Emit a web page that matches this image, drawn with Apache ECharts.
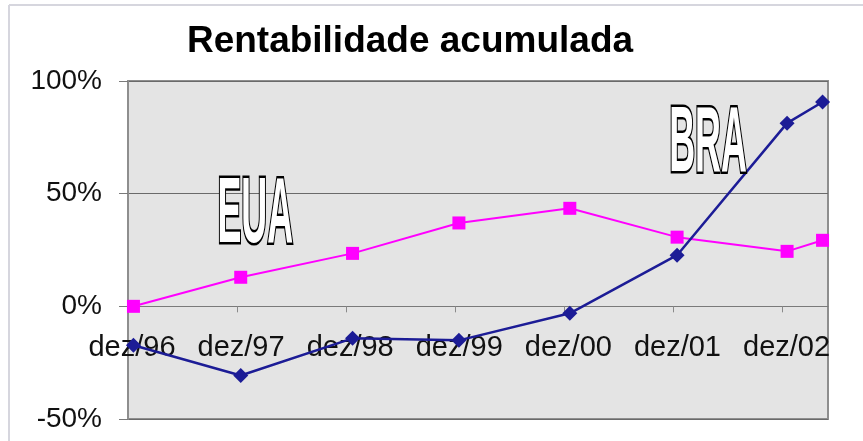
<!DOCTYPE html>
<html>
<head>
<meta charset="utf-8">
<script src="https://cdn.jsdelivr.net/npm/echarts@6/dist/echarts.min.js"></script>
<style>html,body{margin:0;padding:0;background:#fff;}#c{width:863px;height:441px;}</style>
</head>
<body>
<div id="c"></div>
<script>
// months since dez/96 at which each point was recorded
var months = [0.6, 12.4, 24.7, 36.4, 48.6, 60.4, 72.5, 76.4];
var tickLabels = ['dez/96', 'dez/97', 'dez/98', 'dez/99', 'dez/00', 'dez/01', 'dez/02'];
var eua = [0, 12.9, 23.5, 37.0, 43.5, 30.7, 24.4, 29.3];
var bra = [-17.3, -30.7, -14.2, -15.1, -3.1, 22.7, 81.3, 90.7];
var title = 'Rentabilidade acumulada';

function pairs(xs, ys) { return xs.map(function (x, i) { return [x, ys[i]]; }); }

var chart = echarts.init(document.getElementById('c'), null, { renderer: 'canvas' });
var font = 'Liberation Sans, Arial, sans-serif';
chart.setOption({
  backgroundColor: '#ffffff',
  animation: false,
  grid: { left: 128, right: 35, top: 81, bottom: 22, show: true, containLabel: false,
          outerBoundsMode: 'none',
          backgroundColor: '#e4e4e4', borderColor: '#8e8e8e', borderWidth: 2 },
  xAxis: {
    type: 'value', min: 0, max: 77, interval: 12,
    axisLine: { show: true, onZero: true, lineStyle: { color: '#7a7a7a', width: 1 } },
    axisTick: { show: true, inside: false, length: 6, lineStyle: { color: '#8a8a8a' } },
    splitLine: { show: false },
    axisLabel: {
      showMaxLabel: false, showMinLabel: true, margin: -86,
      fontFamily: font, fontSize: 29, color: '#111',
      padding: [0, 0, 0, 8],
      formatter: function (v) { return v % 12 === 0 ? (tickLabels[v / 12] || '') : ''; }
    }
  },
  yAxis: {
    type: 'value', min: -50, max: 100, interval: 50,
    axisLine: { show: true, lineStyle: { color: '#8e8e8e', width: 2 } },
    axisTick: { show: true, inside: false, length: 9, lineStyle: { color: '#7a7a7a' } },
    splitLine: { show: true, lineStyle: { color: '#6a6a6a', width: 1 } },
    axisLabel: { margin: 26, fontFamily: font, fontSize: 28, color: '#111',
                 formatter: function (v) { return v + '%'; } }
  },
  series: [
    { name: 'EUA', type: 'line', data: pairs(months, eua), symbol: 'rect', symbolSize: 13,
      lineStyle: { color: '#ff00ff', width: 2 }, itemStyle: { color: '#ff00ff' }, z: 3 },
    { name: 'BRA', type: 'line', data: pairs(months, bra), symbol: 'diamond', symbolSize: 15,
      lineStyle: { color: '#1c1c96', width: 2.5 }, itemStyle: { color: '#1c1c96' }, z: 4 }
  ]
});

var euaPos = chart.convertToPixel({ gridIndex: 0 }, [14.0, 39.8]);
var braPos = chart.convertToPixel({ gridIndex: 0 }, [63.8, 71.1]);
function outlined(txt, p) {
  return { type: 'text', x: p[0], y: p[1], scaleX: 0.39, scaleY: 1, z: 10,
    style: { text: txt, fontFamily: font, fontWeight: 'bold', fontSize: 92,
             fill: '#ffffff', stroke: '#000000', lineWidth: 5,
             align: 'center', verticalAlign: 'middle' } };
}
chart.setOption({
  graphic: [
    { type: 'line', shape: { x1: 9, y1: 5, x2: 863, y2: 5 }, style: { stroke: '#d6d6de', lineWidth: 2 } },
    { type: 'line', shape: { x1: 9, y1: 5, x2: 9, y2: 441 }, style: { stroke: '#d6d6de', lineWidth: 2 } },
    { type: 'text', x: 410, y: 42, style: { text: title, fontFamily: font, fontWeight: 'bold',
      fontSize: 37, fill: '#000', align: 'center', verticalAlign: 'middle' } },
    outlined('EUA', euaPos),
    outlined('BRA', braPos)
  ]
});
</script>
</body>
</html>
